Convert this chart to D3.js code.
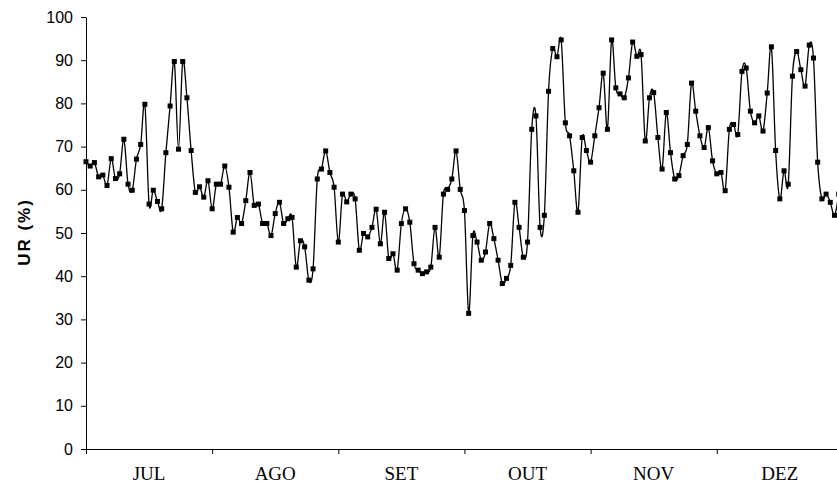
<!DOCTYPE html>
<html>
<head>
<meta charset="utf-8">
<script src="https://cdn.jsdelivr.net/npm/d3@7/dist/d3.min.js"></script>
<style>
  html, body { margin: 0; padding: 0; background: #fff; }
  svg { display: block; }
</style>
</head>
<body>
<div id="chart"></div>
<script>
// months shown under the axis, one every 30 days
var months = ["JUL", "AGO", "SET", "OUT", "NOV", "DEZ"]
var daysPerMonth = 30
var yTicks = [0, 10, 20, 30, 40, 50, 60, 70, 80, 90, 100]

// daily relative humidity (%)
var ur = [
  66.5, 65.5, 66.3, 63.0, 63.4, 61.0, 67.2, 62.6, 63.7, 71.7,
  61.3, 59.9, 67.1, 70.5, 79.8, 56.7, 59.9, 57.3, 55.6, 68.6,
  79.4, 89.7, 69.4, 89.7, 81.3, 69.1, 59.4, 60.7, 58.3, 62.1,
  55.6, 61.3, 61.3, 65.5, 60.6, 50.2, 53.6, 52.2, 57.5, 64.0,
  56.4, 56.7, 52.2, 52.2, 49.4, 54.5, 57.1, 52.2, 53.3, 53.6,
  42.1, 48.2, 46.8, 39.1, 41.7, 62.5, 64.8, 69.0, 64.0, 60.6,
  47.9, 59.0, 57.2, 59.0, 57.9, 46.0, 49.9, 49.1, 51.3, 55.5,
  47.5, 54.8, 44.1, 45.2, 41.4, 52.2, 55.6, 52.5, 42.9, 41.4,
  40.6, 41.0, 42.1, 51.3, 44.4, 59.0, 60.1, 62.5, 69.0, 60.1,
  55.2, 31.4, 49.4, 47.9, 43.7, 45.6, 52.2, 48.7, 43.7, 38.3,
  39.5, 42.5, 57.1, 51.3, 44.4, 47.9, 74.0, 77.1, 51.3, 54.1,
  82.8, 92.7, 90.8, 94.7, 75.5, 72.5, 64.4, 54.8, 72.1, 69.1,
  66.4, 72.5, 79.0, 87.0, 74.0, 94.7, 83.6, 82.2, 81.3, 85.9,
  94.2, 90.9, 91.3, 71.3, 81.3, 82.5, 72.1, 64.8, 77.9, 68.6,
  62.5, 63.3, 67.9, 70.5, 84.7, 78.2, 72.5, 69.8, 74.4, 66.7,
  63.7, 64.0, 59.8, 74.0, 75.1, 72.8, 87.4, 88.2, 78.2, 75.5,
  77.1, 73.6, 82.4, 93.1, 69.1, 57.9, 64.4, 61.3, 86.3, 92.0,
  87.8, 84.0, 93.5, 90.5, 66.4, 57.9, 59.0, 57.1, 54.1, 59.0
]

var W = 837, H = 488
var plotLeft = 86, plotTop = 17, plotBottom = 449
var dayWidth = 4.205

var svg = d3.select("#chart").append("svg")
  .attr("width", W)
  .attr("height", H)

var x = d3.scaleLinear()
  .domain([0, months.length * daysPerMonth])
  .range([plotLeft, plotLeft + months.length * daysPerMonth * dayWidth])

var y = d3.scaleLinear()
  .domain([0, 100])
  .range([plotBottom, plotTop])

// y axis
var yAxis = svg.append("g")
  .attr("transform", "translate(" + plotLeft + ",0)")
  .call(d3.axisLeft(y).tickValues(yTicks).tickSize(5).tickPadding(8).tickSizeOuter(0))
yAxis.selectAll("text")
  .attr("font-family", "Arial, 'Liberation Sans', sans-serif")
  .attr("font-size", 16)
  .attr("fill", "#000")
yAxis.selectAll("line, path").attr("stroke", "#000")

// x axis, ticks at month borders
var xTicks = d3.range(0, months.length + 1).map(function(k){ return k * daysPerMonth })
var xAxis = svg.append("g")
  .attr("transform", "translate(0," + plotBottom + ")")
  .call(d3.axisBottom(x).tickValues(xTicks).tickSize(5).tickSizeOuter(0).tickFormat(""))
xAxis.selectAll("line, path").attr("stroke", "#000")

svg.append("g").selectAll("text")
  .data(months)
  .enter()
  .append("text")
  .attr("x", function(d, i){ return x(i * daysPerMonth + daysPerMonth / 2) })
  .attr("y", 480)
  .attr("text-anchor", "middle")
  .attr("font-family", "'Times New Roman', 'Liberation Serif', serif")
  .attr("font-size", 19)
  .attr("fill", "#000")
  .text(function(d){ return d })

// y title
svg.append("text")
  .attr("transform", "translate(30,232) rotate(-90)")
  .attr("text-anchor", "middle")
  .attr("font-family", "Arial, 'Liberation Sans', sans-serif")
  .attr("font-weight", "bold")
  .attr("font-size", 17)
  .attr("letter-spacing", 2)
  .attr("fill", "#000")
  .text("UR (%)")

// smoothed line + square markers
var line = d3.line()
  .x(function(d, i){ return x(i) })
  .y(function(d){ return y(d) })
  .curve(d3.curveCardinal.tension(0))

svg.append("path")
  .datum(ur)
  .attr("d", line)
  .attr("fill", "none")
  .attr("stroke", "#000")
  .attr("stroke-width", 1.3)

var ms = 5
svg.append("g").selectAll("rect")
  .data(ur)
  .enter()
  .append("rect")
  .attr("x", function(d, i){ return x(i) - ms / 2 })
  .attr("y", function(d){ return y(d) - ms / 2 })
  .attr("width", ms)
  .attr("height", ms)
  .attr("fill", "#000")
</script>
</body>
</html>
